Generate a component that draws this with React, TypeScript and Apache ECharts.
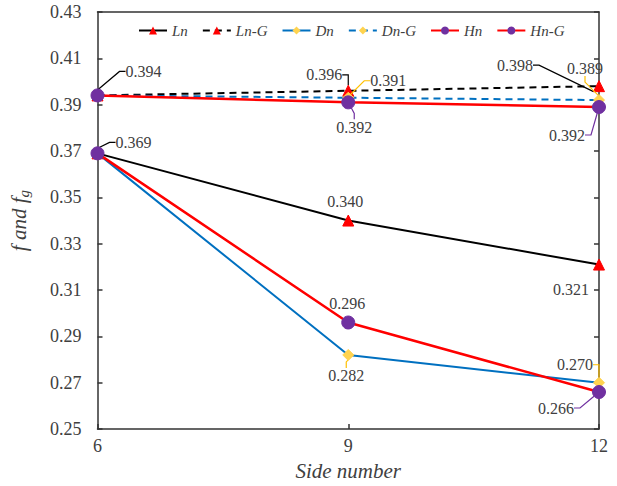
import React, { useEffect, useRef } from "react";
import * as echarts from "echarts";

const sideNumbers = [6, 9, 12];
const seriesNames = ["Ln", "Ln-G", "Dn", "Dn-G", "Hn", "Hn-G"];
const lnValues = [0.369, 0.34, 0.321];
const lnGValues = [0.394, 0.396, 0.398];
const dnValues = [0.369, 0.282, 0.27];
const dnGValues = [0.394, 0.393, 0.392];
const hnValues = [0.369, 0.296, 0.266];
const hnGValues = [0.394, 0.391, 0.389];

const lnLabels = ["0.369", "0.340", "0.321"];
const lnGLabels = ["0.394", "0.396", "0.398"];
const dnLabels = ["", "0.282", "0.270"];
const dnGLabels = ["", "0.391", "0.389"];
const hnLabels = ["", "0.296", "0.266"];
const hnGLabels = ["", "0.392", "0.392"];

const yMin = 0.25;
const yMax = 0.43;
const yStep = 0.02;

// label offsets (px) relative to the point, and whether a leader line is drawn
const labelOffsets: (number[] | null)[][] = [
  [[36, -11], [-3, -19], [-28, 25]],
  [[46, -24], [-24, -16], [-84, -21]],
  [null, [-2, 21], [-24, -18]],
  [null, [40, -17], [-14, -32]],
  [null, [-1, -19], [-43, 16]],
  [null, [6, 25], [-32, 28]],
];
const leaders = [
  [true, false, false],
  [true, true, true],
  [false, true, true],
  [false, true, true],
  [false, false, true],
  [false, true, true],
];

const BLACK = "#000000";
const BLUE = "#0070C0";
const RED = "#FF0000";
const YELLOW = "#FFD34F";
const LEADER_YELLOW = "#FFC000";
const PURPLE = "#7030A0";
const SERIF = "Liberation Serif";

export default function App() {
  const ref = useRef<HTMLDivElement>(null);
  useEffect(() => {
    if (!ref.current) return;
    const chart = echarts.init(ref.current, undefined, { renderer: "svg" });

    const makeData = (vals: number[], labels: string[], si: number, leaderColor: string) =>
      sideNumbers.map((x, i) => ({
        value: [x, vals[i]],
        label: { show: labels[i] !== "", formatter: labels[i] },
        labelLine: { show: leaders[si][i], lineStyle: { color: leaderColor, width: 1.2 } },
      }));

    const labelBase = {
      show: true,
      position: "inside",
      fontFamily: SERIF,
      fontSize: 16,
      color: "#404040",
    };

    const layoutFn = (si: number) => (params: any) => {
      const off = labelOffsets[si][params.dataIndex];
      if (!off) return {};
      return { dx: off[0], dy: off[1] };
    };

    const mk = (
      si: number,
      vals: number[],
      labels: string[],
      color: string,
      dashed: boolean,
      symbol: string,
      symbolSize: number,
      symColor: string,
      leaderColor: string,
      width: number,
      z: number
    ) => ({
      name: seriesNames[si],
      type: "line",
      data: makeData(vals, labels, si, leaderColor),
      symbol,
      symbolSize,
      showAllSymbol: true,
      z,
      lineStyle: { color, width, type: dashed ? [7, 5] : "solid" },
      itemStyle: { color: symColor, borderColor: symColor },
      label: labelBase,
      labelLine: { show: false, smooth: false, length2: 6, lineStyle: { color: leaderColor, width: 1.2 } },
      labelLayout: layoutFn(si),
    });

    const option: any = {
      animation: false,
      backgroundColor: "#ffffff",
      textStyle: { fontFamily: SERIF },
      grid: { left: 94, right: 18, top: 12, bottom: 53, containLabel: false },
      legend: {
        top: 18,
        left: 133,
        itemWidth: 28,
        itemHeight: 10,
        itemGap: 14,
        textStyle: { fontFamily: SERIF, fontStyle: "italic", fontSize: 15, color: "#404040" },
        data: seriesNames,
      },
      xAxis: [
        {
          type: "value",
          min: 6,
          max: 12,
          interval: 3,
          name: "Side number",
          nameLocation: "middle",
          nameGap: 21,
          nameTextStyle: { fontFamily: SERIF, fontStyle: "italic", fontSize: 21, color: "#404040" },
          axisLine: { show: true, lineStyle: { color: "#333333", width: 1.5 } },
          axisTick: { show: true, inside: true, length: 5, lineStyle: { color: "#333333", width: 1.5 } },
          axisLabel: { fontFamily: SERIF, fontSize: 18, color: "#404040", margin: 8 },
          splitLine: { show: false },
        },
        {
          type: "value",
          position: "top",
          min: 6,
          max: 12,
          interval: 3,
          axisLine: { show: true, onZero: false, lineStyle: { color: "#333333", width: 1.5 } },
          axisTick: { show: false },
          axisLabel: { show: false },
          splitLine: { show: false },
        },
      ],
      yAxis: [
        {
          type: "value",
          min: yMin,
          max: yMax,
          interval: yStep,
          name: "{a|f and f}{g|g}",
          nameLocation: "middle",
          nameRotate: 90,
          nameGap: 66,
          nameTextStyle: {
            rich: {
              a: { fontFamily: SERIF, fontStyle: "italic", fontSize: 21, color: "#404040", lineHeight: 26 },
              g: { fontFamily: SERIF, fontStyle: "italic", fontSize: 15, color: "#404040", lineHeight: 16, verticalAlign: "bottom" },
            },
          },
          axisLine: { show: true, onZero: false, lineStyle: { color: "#333333", width: 1.5 } },
          axisTick: { show: true, inside: true, length: 5, lineStyle: { color: "#333333", width: 1.5 } },
          axisLabel: {
            fontFamily: SERIF,
            fontSize: 18,
            color: "#404040",
            margin: 16,
            formatter: (v: number) => v.toFixed(2),
          },
          splitLine: { show: false },
        },
        {
          type: "value",
          position: "right",
          min: yMin,
          max: yMax,
          interval: yStep,
          axisLine: { show: true, onZero: false, lineStyle: { color: "#333333", width: 1.5 } },
          axisTick: { show: true, inside: true, length: 5, lineStyle: { color: "#333333", width: 1.5 } },
          axisLabel: { show: false },
          splitLine: { show: false },
        },
      ],
      series: [
        mk(0, lnValues, lnLabels, BLACK, false, "triangle", 11, RED, BLACK, 2, 2),
        mk(1, lnGValues, lnGLabels, BLACK, true, "triangle", 11, RED, BLACK, 2, 2),
        mk(2, dnValues, dnLabels, BLUE, false, "diamond", 11, YELLOW, LEADER_YELLOW, 2, 3),
        mk(3, dnGValues, dnGLabels, BLUE, true, "diamond", 11, YELLOW, LEADER_YELLOW, 2, 3),
        mk(4, hnValues, hnLabels, RED, false, "circle", 13, PURPLE, PURPLE, 2.5, 4),
        mk(5, hnGValues, hnGLabels, RED, false, "circle", 13, PURPLE, PURPLE, 2.5, 4),
      ],
    };
    chart.setOption(option);
    return () => chart.dispose();
  }, []);
  return (
    <div
      ref={ref}
      style={{ position: "fixed", left: 0, top: 0, width: 617, height: 486, background: "#fff" }}
    />
  );
}
